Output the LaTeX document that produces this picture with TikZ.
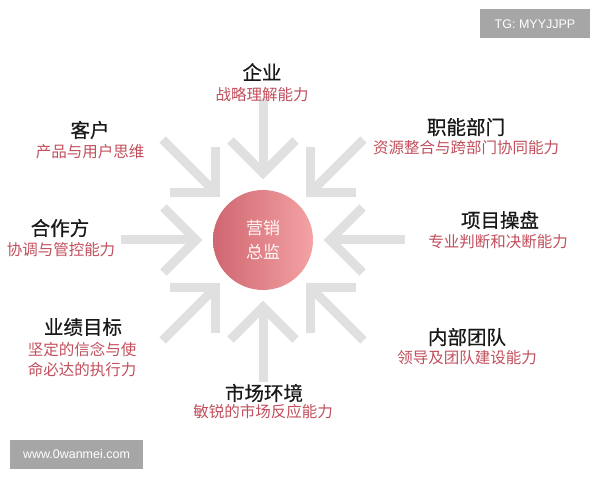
\documentclass[tikz,border=0pt]{standalone}
\usepackage{fontspec}
\setmainfont{Liberation Sans}
\newfontfamily\cjk{Noto Sans CJK SC}
\newfontfamily\cjkt[FakeBold=0.6]{Noto Sans CJK SC}
\usetikzlibrary{calc}
\definecolor{arrowgray}{HTML}{E0E0E0}
\definecolor{subred}{HTML}{C24F5C}
\definecolor{circdark}{HTML}{CF6670}
\definecolor{circlight}{HTML}{F4A3A5}
\definecolor{boxgray}{HTML}{A6A6A6}
\tikzset{
  title/.style={font=\cjkt\fontsize{19.5}{21}\selectfont, text=black!90, inner sep=0pt},
  sub/.style={font=\cjk\fontsize{15.5}{20}\selectfont, text=subred, inner sep=0pt, align=center},
  chev/.style={draw=arrowgray, line width=9pt, line join=miter, line cap=butt},
  tag/.style={fill=boxgray, text=white, font=\fontsize{12.5}{14}\selectfont, inner sep=0pt, minimum height=29pt}
}
\begin{document}
\begin{tikzpicture}[x=1pt,y=1pt]
\useasboundingbox (0,0) rectangle (600,480);
\fill[white] (0,0) rectangle (600,480);

\coordinate (c) at (263,240);
% arrows pointing at centre
\foreach \a in {0,45,...,315}{
  \coordinate (tip) at ($(c)+(\a:67)$);
  \draw[chev] ($(c)+(\a:142)$) -- (tip);
  \draw[chev] ($(tip)+(\a+45:46)$) -- (tip) -- ($(tip)+(\a-45:46)$);
}

\node[circle, minimum size=100pt, inner sep=0pt, left color=circdark, right color=circlight, draw=none] (hub) at (c) {};
\node[font=\cjk\fontsize{17}{24}\selectfont, text=white!85!pink, align=center] (hubtxt) at (hub) {营销\\总监};

% labels
\node[title] (t1) at (262,408) {企业};
\node[sub] (s1) at (262,385) {战略理解能力};

\node[title] (t2) at (90,350) {客户};
\node[sub] (s2) at (90,328) {产品与用户思维};

\node[title] (t3) at (466,353) {职能部门};
\node[sub] (s3) at (466,332) {资源整合与跨部门协同能力};

\node[title] (t4) at (60,252) {合作方};
\node[sub] (s4) at (61,230) {协调与管控能力};

\node[title] (t5) at (500,260) {项目操盘};
\node[sub] (s5) at (498,238) {专业判断和决断能力};

\node[title] (t6) at (83,153) {业绩目标};
\node[sub] (s6) at (82,120) {坚定的信念与使\\命必达的执行力};

\node[title] (t7) at (467,143) {内部团队};
\node[sub] (s7) at (467,122) {领导及团队建设能力};

\node[title] (t8) at (264,87) {市场环境};
\node[sub] (s8) at (263,68) {敏锐的市场反应能力};

% tags
\node[tag, minimum width=110pt] (tg) at (535,456) {TG: MYYJJPP};
\node[tag, minimum width=133pt] (www) at (76.5,25.5) {www.0wanmei.com};
\end{tikzpicture}
\end{document}
